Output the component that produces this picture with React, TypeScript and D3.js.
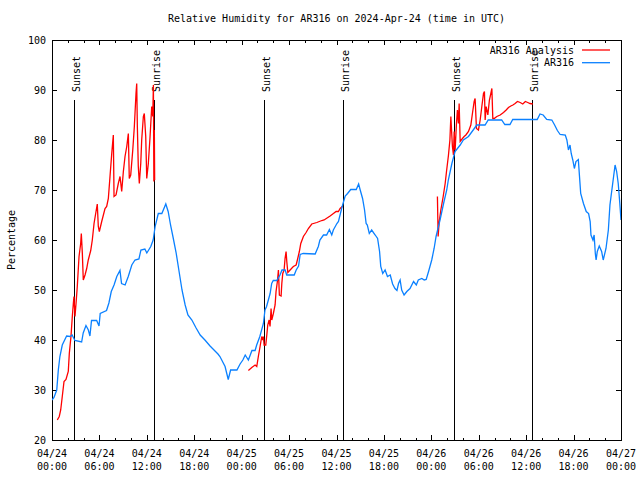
import React, { useEffect, useRef } from "react";
import * as d3 from "d3";

// hours since 2024-04-24 00:00 UTC
const stationHours = [
  0, 0.25, 0.6, 0.8, 1.0, 1.3, 1.85, 2.3, 2.55, 2.9, 3.75, 3.95, 4.3, 4.6, 4.8, 5.0, 5.65, 5.95, 6.1, 6.9,
  7.2, 7.5, 7.85, 8.2, 8.6, 8.8, 9.25, 9.65, 10.1, 10.5, 11.0, 11.25, 11.75, 12.0, 12.5, 12.8, 13.05, 13.45, 13.9, 14.4,
  14.7, 15.0, 15.35, 15.7, 16.1, 16.45, 16.85, 17.2, 17.7, 18.2, 18.75, 19.35, 20.0, 20.5, 21.0, 21.25, 21.9, 22.3, 22.6, 23.4,
  23.8, 24.15, 24.45, 24.85, 25.3, 25.7, 25.9, 26.3, 26.75, 26.95, 27.15, 27.6, 27.8, 28.0, 28.45, 28.85, 29.1, 29.5, 29.7, 30.65,
  30.9, 31.2, 31.4, 31.8, 33.3, 33.7, 33.9, 34.35, 34.75, 35.1, 35.4, 35.6, 36.05, 36.25, 36.65, 36.9, 37.1, 37.4, 37.8, 38.5,
  38.8, 39.0, 39.3, 39.55, 39.75, 39.9, 40.15, 40.45, 40.9, 41.2, 41.45, 41.6, 41.85, 42.15, 42.45, 42.8, 43.1, 43.4, 43.65, 43.85,
  44.05, 44.25, 44.55, 44.9, 45.3, 45.75, 46.1, 46.35, 46.8, 47.1, 47.35, 47.65, 48.05, 48.35, 48.6, 48.9, 49.1, 49.55, 49.95, 50.15,
  50.6, 51.0, 51.65, 52.05, 52.7, 53.3, 53.75, 54.8, 55.2, 56.9, 57.3, 57.95, 58.3, 61.4, 61.75, 62.15, 62.6, 63.25, 63.6, 63.95,
  64.3, 64.95, 65.15, 65.35, 65.55, 65.7, 65.9, 66.1, 66.3, 66.6, 66.75, 66.9, 67.25, 67.6, 67.9, 68.1, 68.2, 68.45, 68.6, 68.75,
  68.85, 69.0, 69.25, 69.55, 69.75, 70.1, 70.4, 70.6, 70.95, 71.25, 71.45, 71.65, 71.85, 72.0,
];
const stationRH = [
  28, 28.5, 30, 34, 36.7, 39, 40.8, 40.7, 41, 39.9, 39.6, 41.4, 42.9, 42, 40.8, 43.9, 43.9, 42.8, 45.3, 45.9,
  47.4, 49.7, 51, 52.7, 53.9, 51.3, 51, 52.7, 55, 56, 56.2, 58, 58.2, 57.4, 58.7, 60, 62.7, 65.3, 65.3, 67.2,
  65.7, 63, 60.3, 57.5, 53.5, 50, 47, 45, 44, 42.5, 41, 40, 38.8, 38, 37.2, 36.7, 34.7, 32.1, 34, 34,
  35.2, 36, 37, 36, 37.9, 37.9, 39, 40.7, 43.3, 46, 46.7, 49.3, 51.3, 51.9, 51.9, 53, 54, 54, 53, 53,
  54, 54.8, 57.1, 57.3, 57.2, 58.7, 60, 61, 61, 62.1, 61, 62, 63.3, 63.7, 66.3, 67.7, 68.8, 69.3, 70.1, 70.1,
  71.2, 70, 68.3, 66, 63.3, 63, 61.3, 62, 61, 60.3, 57.7, 54.7, 53.3, 54, 52.7, 53, 51.2, 50.3, 49.9, 51.3,
  52, 50, 49, 49.7, 50.3, 51.7, 51, 52, 52.3, 52, 52.1, 53.7, 56, 58.3, 60.7, 62.7, 64, 67.3, 70, 72,
  75.3, 77.7, 79, 80, 80.7, 82, 83, 83, 84, 84, 83.1, 83.1, 84.1, 84.1, 85.2, 85, 84.1, 84, 83, 81.9,
  81.1, 81, 80, 78, 79, 77.3, 76, 74.3, 75.7, 76.1, 72.7, 69.3, 67.3, 65.7, 65.3, 63.7, 61, 60, 61, 57.3,
  56, 57.7, 58.8, 57.7, 56, 58.3, 62, 67, 71.3, 75, 73.7, 71.3, 67.3, 64,
];

// analysis has gaps (null)
const analysisHours = [
  0.67, 0.92, 1.1, 1.3, 1.52, 1.77, 2.06, 2.19, 2.4, 2.57, 2.7, 2.78, 2.91, 3.04, 3.2, 3.42, 3.63, 3.71, 3.84, 3.96,
  4.18, 4.39, 4.59, 4.9, 5.1, 5.32, 5.57, 5.73, 5.86, 5.99, 6.29, 6.71, 6.92, 7.13, 7.34, 7.56, 7.76, 7.85, 8.1, 8.39,
  8.61, 8.82, 9.03, 9.24, 9.46, 9.66, 9.78, 9.96, 10.22, 10.42, 10.63, 10.72, 10.8, 10.92, 11.05, 11.23, 11.35, 11.56, 11.68, 11.86,
  11.99, 12.19, 12.41, 12.62, 12.75, 12.83, 12.89, 12.95, 12.99,
  13.0,
  24.85, 25.28, 25.7, 25.91, 26.11, 26.33, 26.54, 26.67, 26.75, 26.84, 27.05, 27.18, 27.3, 27.47, 27.59, 27.72, 27.81, 28.01, 28.23, 28.35,
  28.52, 28.65, 28.77, 28.99, 29.08, 29.2, 29.37, 29.49, 29.62, 29.71, 29.84, 30.13, 30.54, 30.89, 31.05, 31.3, 31.48, 31.81, 32.15, 32.44,
  32.87, 33.51, 34.14, 34.43, 35.19, 35.61, 35.95, 36.24, 36.46, 36.8,
  37.0,
  48.77, 48.86, 49.0, 49.2, 49.5, 49.75, 49.92, 50.17, 50.35, 50.47, 50.6, 50.67, 50.8, 50.89, 51.01, 51.18, 51.3, 51.43, 51.52, 51.65,
  51.94, 52.15, 52.37, 52.7, 53.0, 53.2, 53.42, 53.54, 53.71, 53.96, 54.18, 54.39, 54.6, 54.72, 54.81, 54.94, 55.15, 55.35, 55.53, 55.66,
  55.78, 55.95, 56.29, 56.71, 57.13, 57.47, 57.76, 58.06, 58.32, 58.6, 58.9, 59.24, 59.57, 59.9, 60.2, 60.49, 60.84,
];
const analysisRH = [
  24, 24.7, 26, 28.7, 31.7, 32.1, 33.7, 37.3, 40.7, 44.7, 47.3, 48.7, 44.7, 47.3, 50.7, 56.7, 59.3, 61.3, 57.3, 52,
  53, 54.3, 56, 57.9, 60, 63.3, 65.7, 67.2, 62.7, 61.7, 63.7, 66.3, 66.7, 68.3, 72.7, 77.3, 81, 68.7, 69, 71.3,
  72.7, 69.7, 73.7, 76.7, 78.7, 81.3, 72.3, 73, 78, 82.7, 89.3, 91.3, 82.7, 74.7, 71.3, 75.3, 80, 84.7, 85.3, 80.7,
  72.3, 75.3, 80.7, 86.7, 84.7, 91, 71.7, 82, 72,
  null,
  33.9, 34.5, 35, 34.7, 36.7, 38.7, 40.7, 40, 40.7, 39, 39, 41, 43, 44, 42.7, 46.3, 44, 45.3, 47, 49.7,
  51.7, 54, 49, 48.8, 51.3, 53.3, 54, 56.3, 57.7, 55.7, 53.5, 54, 54.7, 55, 56, 57.7, 59.3, 60.7, 61.5, 62.3,
  63.2, 63.5, 63.9, 64, 64.8, 65.3, 65.7, 65.7, 66.3, 66.8,
  null,
  68.7, 60.7, 63.7, 66, 68.7, 71.3, 73.7, 77, 80, 84.7, 80.7, 78.7, 77, 81.7, 78, 83.3, 86, 83.3, 87.3, 79.7,
  80.3, 80.7, 81, 81.7, 83, 85.3, 87.7, 88.3, 82.3, 82, 84, 86.7, 89.3, 89.7, 84, 86.7, 85, 88, 89.3, 90.3,
  84.3, 84.3, 84.7, 85, 85.5, 86, 86.5, 86.8, 87, 87.3, 87.7, 87.5, 87.2, 87.7, 87.5, 87.3, 87.2,
];

const sunHours = [2.82, 12.85, 26.87, 36.78, 50.9, 60.8];
const sunLabels = ["Sunset", "Sunrise", "Sunset", "Sunrise", "Sunset", "Sunrise"];
const sunLineTop = 88;

const yTicks = [20, 30, 40, 50, 60, 70, 80, 90, 100];
const legendNames = ["AR316 Analysis", "AR316"];
const legendColors = ["#ff0000", "#0a80ff"];

const START = Date.UTC(2024, 3, 24);
const toDate = (h: number) => new Date(START + h * 3600e3);
const FONT = "'DejaVu Sans Mono', monospace";
const FS = 10;

const App: React.FC = () => {
  const svgRef = useRef<SVGSVGElement | null>(null);

  useEffect(() => {
    if (!svgRef.current) return;
    const width = 640, height = 480;
    const margin = { top: 40, right: 19, bottom: 40, left: 52 };
    const x0 = margin.left, x1 = width - margin.right;
    const y0 = height - margin.bottom, y1 = margin.top;

    const svg = d3.select(svgRef.current).attr("width", width).attr("height", height);
    svg.selectAll("*").remove();

    svg.append("rect").attr("width", width).attr("height", height).attr("fill", "white");

    const x = d3.scaleUtc().domain([toDate(0), toDate(72)]).range([x0, x1]);
    const y = d3.scaleLinear().domain([20, 100]).range([y0, y1]);

    svg.append("defs").append("clipPath").attr("id", "plot-clip")
      .append("rect").attr("x", x0).attr("y", y1).attr("width", x1 - x0).attr("height", y0 - y1);

    const axes = svg.append("g").attr("shape-rendering", "crispEdges").attr("stroke", "black").attr("stroke-width", 1);

    // x ticks, major every 6h, minor every 2h, mirrored on top
    const major = x.ticks(d3.utcHour.every(6)!);
    const minor = x.ticks(d3.utcHour.every(2)!).filter(d => d.getUTCHours() % 6 !== 0);
    major.forEach(d => {
      const px = Math.round(x(d)) + 0.5;
      axes.append("line").attr("x1", px).attr("x2", px).attr("y1", y0).attr("y2", y0 - 5);
      axes.append("line").attr("x1", px).attr("x2", px).attr("y1", y1).attr("y2", y1 + 5);
    });
    minor.forEach(d => {
      const px = Math.round(x(d)) + 0.5;
      axes.append("line").attr("x1", px).attr("x2", px).attr("y1", y0).attr("y2", y0 - 2.5);
      axes.append("line").attr("x1", px).attr("x2", px).attr("y1", y1).attr("y2", y1 + 2.5);
    });
    yTicks.forEach(v => {
      const py = Math.round(y(v)) + 0.5;
      axes.append("line").attr("x1", x0).attr("x2", x0 + 5).attr("y1", py).attr("y2", py);
      axes.append("line").attr("x1", x1).attr("x2", x1 - 5).attr("y1", py).attr("y2", py);
    });

    // tick labels
    const fmtDay = d3.utcFormat("%m/%d");
    const fmtTime = d3.utcFormat("%H:%M");
    const xl = svg.append("g").attr("font-family", FONT).attr("font-size", FS).attr("text-anchor", "middle");
    major.forEach(d => {
      xl.append("text").attr("x", x(d)).attr("y", 457).text(fmtDay(d));
      xl.append("text").attr("x", x(d)).attr("y", 470).text(fmtTime(d));
    });
    svg.append("g").attr("font-family", FONT).attr("font-size", FS).attr("text-anchor", "end")
      .selectAll("text").data(yTicks).enter().append("text")
      .attr("x", 46).attr("y", d => y(d) + 3.5).text(d => d);

    // sunrise / sunset lines
    const sun = svg.append("g");
    sunHours.forEach((h, i) => {
      const px = Math.round(x(toDate(h))) + 0.5;
      sun.append("line").attr("x1", px).attr("x2", px).attr("y1", y0).attr("y2", y(sunLineTop))
        .attr("stroke", "black").attr("stroke-width", 1).attr("shape-rendering", "crispEdges");
      sun.append("text").attr("transform", `translate(${px + 5.5},${y(sunLineTop) - 8}) rotate(-90)`)
        .attr("font-family", FONT).attr("font-size", FS).text(sunLabels[i]);
    });

    // data lines
    const line = d3.line<[number, number | null]>()
      .defined(d => d[1] !== null)
      .x(d => x(toDate(d[0])))
      .y(d => y(d[1] as number));

    const analysisData = analysisHours.map((h, i) => [h, analysisRH[i]] as [number, number | null]);
    const stationData = stationHours.map((h, i) => [h, stationRH[i]] as [number, number | null]);

    const plot = svg.append("g").attr("clip-path", "url(#plot-clip)");
    plot.append("path").datum(analysisData).attr("d", line).attr("fill", "none")
      .attr("stroke", legendColors[0]).attr("stroke-width", 1.3);
    plot.append("path").datum(stationData).attr("d", line).attr("fill", "none")
      .attr("stroke", legendColors[1]).attr("stroke-width", 1.3);

    // border
    axes.append("rect").attr("x", x0 + 0.5).attr("y", y1 + 0.5).attr("width", x1 - x0).attr("height", y0 - y1)
      .attr("fill", "none");

    // legend
    const legend = svg.append("g").attr("font-family", FONT).attr("font-size", FS);
    legendNames.forEach((name, i) => {
      const ly = 50 + i * 12.7;
      legend.append("text").attr("x", 574).attr("y", ly + 3.5).attr("text-anchor", "end").text(name);
      legend.append("line").attr("x1", 582).attr("x2", 610).attr("y1", ly).attr("y2", ly)
        .attr("stroke", legendColors[i]).attr("stroke-width", 1.3);
    });

    // title and y label
    svg.append("text").attr("x", (x0 + x1) / 2).attr("y", 22).attr("text-anchor", "middle")
      .attr("font-family", FONT).attr("font-size", FS)
      .text("Relative Humidity for AR316 on 2024-Apr-24 (time in UTC)");
    svg.append("text").attr("transform", `translate(15,${(y0 + y1) / 2}) rotate(-90)`)
      .attr("text-anchor", "middle").attr("font-family", FONT).attr("font-size", FS)
      .text("Percentage");
  }, []);

  return <svg ref={svgRef} style={{ position: "absolute", left: 0, top: 0 }}></svg>;
};

export default App;
